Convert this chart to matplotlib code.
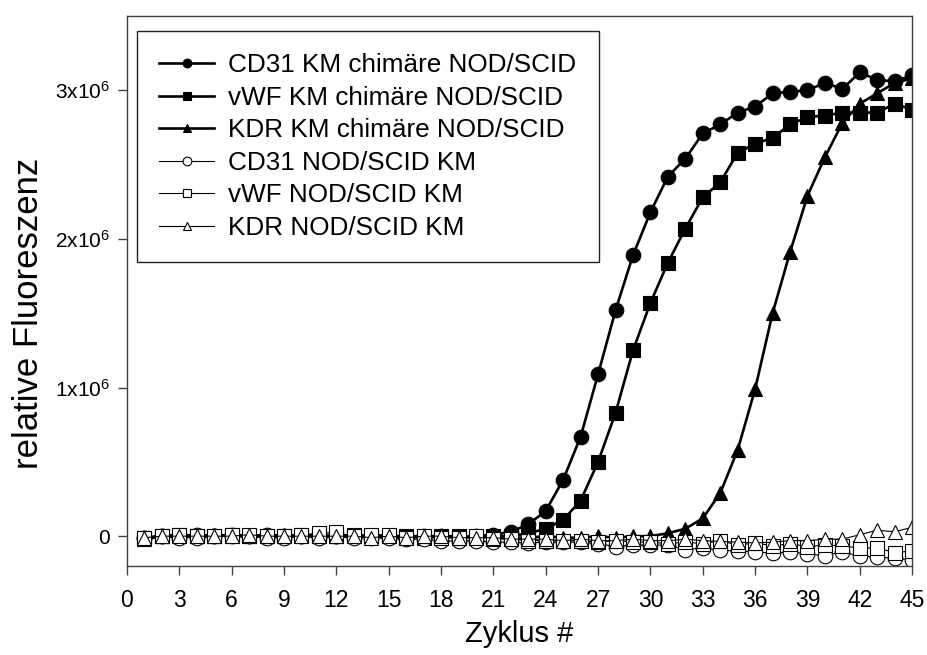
import matplotlib
matplotlib.use("Agg")
import matplotlib.pyplot as plt

plt.rcParams['font.family'] = ['Liberation Sans', 'DejaVu Sans']
plt.rcParams['mathtext.fontset'] = 'custom'
plt.rcParams['mathtext.rm'] = 'Liberation Sans'
plt.rcParams['mathtext.it'] = 'Liberation Sans:italic'

# Zyklen 1..45
zyklus = list(range(1, 46))

# Werte in Einheiten von 10^6
cd31_chim = [-0.01, 0.0, 0.0, 0.01, 0.0, 0.01, 0.0, 0.01, 0.0, 0.0,
             0.01, 0.0, 0.0, 0.0, 0.0, -0.01, 0.0, 0.0, -0.01, 0.0,
             0.01, 0.03, 0.08, 0.17, 0.38, 0.67, 1.09, 1.52, 1.89, 2.18,
             2.42, 2.54, 2.71, 2.77, 2.85, 2.89, 2.98, 2.99, 3.00, 3.05,
             3.01, 3.12, 3.07, 3.06, 3.10]
vwf_chim = [-0.01, 0.0, 0.01, 0.0, 0.0, 0.01, 0.0, 0.0, 0.0, 0.01,
            0.0, 0.0, 0.01, 0.0, 0.0, 0.0, -0.01, 0.0, 0.0, -0.01,
            0.0, 0.0, 0.02, 0.05, 0.11, 0.24, 0.50, 0.83, 1.25, 1.57,
            1.84, 2.07, 2.28, 2.38, 2.58, 2.64, 2.68, 2.77, 2.82, 2.83,
            2.85, 2.85, 2.85, 2.91, 2.87]
kdr_chim = [-0.02, 0.0, 0.0, 0.0, 0.01, 0.0, 0.0, 0.0, 0.01, 0.0,
            0.0, 0.0, 0.0, 0.0, 0.0, 0.0, 0.0, -0.01, 0.0, -0.01,
            0.0, -0.01, -0.01, 0.0, -0.01, -0.01, 0.0, -0.01, 0.0, 0.0,
            0.02, 0.05, 0.12, 0.29, 0.58, 0.99, 1.50, 1.91, 2.29, 2.55,
            2.78, 2.91, 2.98, 3.05, 3.08]
cd31_nod = [-0.01, 0.0, -0.01, -0.01, 0.0, 0.0, 0.0, -0.01, -0.01, 0.0,
            -0.01, 0.0, -0.01, -0.01, -0.015, -0.02, -0.02, -0.03, -0.035, -0.03,
            -0.04, -0.04, -0.045, -0.04, -0.04, -0.04, -0.05, -0.07, -0.06, -0.06,
            -0.06, -0.09, -0.08, -0.095, -0.10, -0.105, -0.115, -0.105, -0.12, -0.13,
            -0.105, -0.135, -0.14, -0.15, -0.16]
vwf_nod = [-0.01, 0.0, 0.01, 0.0, 0.0, 0.01, 0.01, 0.0, 0.0, 0.01,
           0.02, 0.025, 0.0, 0.01, 0.01, -0.01, 0.0, -0.01, -0.01, 0.0,
           -0.02, -0.02, -0.03, -0.03, -0.03, -0.03, -0.04, -0.03, -0.04, -0.04,
           -0.05, -0.04, -0.05, -0.03, -0.06, -0.045, -0.065, -0.05, -0.07, -0.06,
           -0.065, -0.08, -0.08, -0.11, -0.10]
kdr_nod = [-0.01, 0.0, 0.0, 0.0, 0.0, 0.0, 0.01, 0.0, 0.0, 0.0,
           0.0, 0.0, 0.0, -0.01, 0.0, -0.01, 0.0, 0.0, -0.01, -0.01,
           -0.01, -0.02, -0.02, -0.02, -0.03, -0.02, -0.03, -0.03, -0.02, -0.03,
           -0.03, -0.02, -0.03, -0.035, -0.04, -0.045, -0.04, -0.03, -0.03, -0.02,
           -0.02, 0.01, 0.04, 0.03, 0.06]

serien = [
    ("CD31 KM chimäre NOD/SCID", cd31_chim, 'o', 'black', 1.9),
    ("vWF KM chimäre NOD/SCID", vwf_chim, 's', 'black', 1.9),
    ("KDR KM chimäre NOD/SCID", kdr_chim, '^', 'black', 1.9),
    ("CD31 NOD/SCID KM", cd31_nod, 'o', 'white', 0.8),
    ("vWF NOD/SCID KM", vwf_nod, 's', 'white', 0.8),
    ("KDR NOD/SCID KM", kdr_nod, '^', 'white', 0.8),
]

x_ticks = list(range(0, 46, 3))
y_ticks = [0, 1, 2, 3]
y_ticklabels = ['0', r'1x10$^{6}$', r'2x10$^{6}$', r'3x10$^{6}$']

fig = plt.figure(figsize=(9.27, 6.55), dpi=100)
ax = fig.add_axes([0.137, 0.136, 0.847, 0.8396])

for name, werte, marker, fuell, lw in serien:
    ax.plot(zyklus, werte, color='black', lw=lw, marker=marker,
            markersize=10.5, markerfacecolor=fuell, markeredgecolor='black',
            markeredgewidth=0.8, label=name)

ax.set_xlim(0, 45)
ax.set_ylim(-0.2, 3.5)
ax.set_xticks(x_ticks)
ax.set_yticks(y_ticks)
ax.set_yticklabels(y_ticklabels)

for s in ax.spines.values():
    s.set_color('#404040')
    s.set_linewidth(1.0)

ax.tick_params(axis='x', direction='out', length=6.5, width=1, color='#404040',
               labelsize=16.5, pad=10, top=False)
ax.tick_params(axis='y', direction='out', length=6.5, width=1, color='#404040',
               labelsize=15, pad=6, right=False)

ax.set_xlabel('Zyklus #', fontsize=21, labelpad=6)
ax.set_ylabel('relative Fluoreszenz', fontsize=25)
ax.yaxis.set_label_coords(-0.104, 0.46)

leg = ax.legend(loc='upper left', bbox_to_anchor=(0.0127, 0.973), borderaxespad=0,
                fontsize=18.8, frameon=True, fancybox=False, framealpha=1,
                edgecolor='#222222', markerscale=0.6, handlelength=2.1,
                handletextpad=0.55, borderpad=0.85, labelspacing=0.33)
leg.get_frame().set_linewidth(1.0)

fig.savefig('out.png', dpi=100)
